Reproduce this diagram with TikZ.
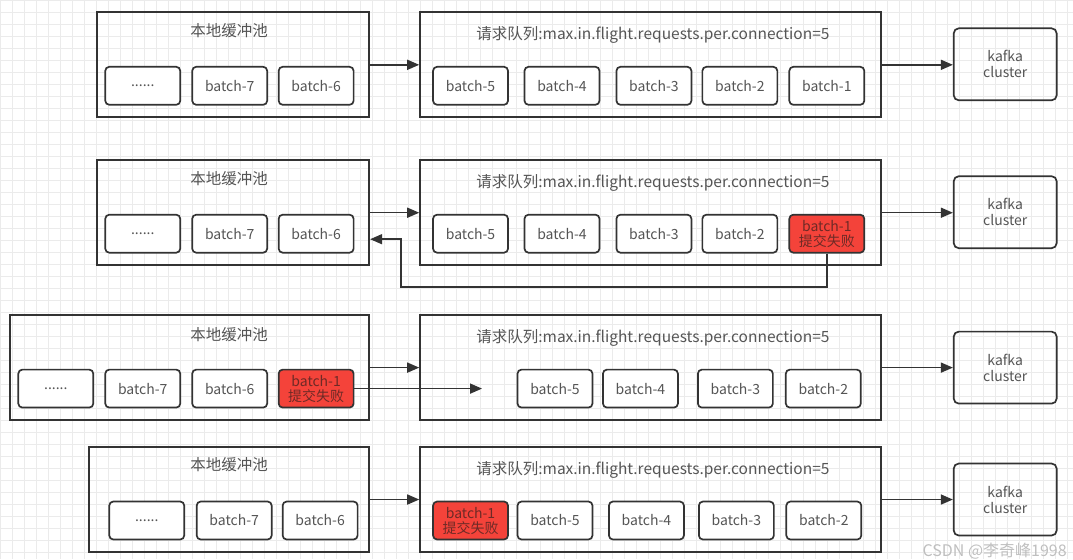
\documentclass[tikz,border=0pt]{standalone}
\usepackage{fontspec}
\setmainfont{Noto Sans CJK SC}
\usetikzlibrary{arrows.meta}
\definecolor{borde}{HTML}{333333}
\definecolor{texto}{HTML}{555555}
\definecolor{rojo}{HTML}{F4433A}
\definecolor{textorojo}{HTML}{6E2A26}
\definecolor{rejilla}{HTML}{EBEBEB}
\begin{document}
\begin{tikzpicture}[x=1pt, y=-1pt,
  pool/.style = {draw=borde, line width=1.7pt, minimum width=272pt, minimum height=105pt, inner sep=0pt},
  cola/.style = {draw=borde, line width=1.7pt, minimum width=461pt, minimum height=105pt, inner sep=0pt},
  titulo/.style = {text=texto, font=\fontsize{15.5}{17}\selectfont, inner sep=0pt},
  lote/.style = {draw=borde, line width=1.7pt, rounded corners=4pt, fill=white, minimum width=75pt, minimum height=38pt,
                 inner sep=0pt, text=texto, font=\fontsize{14}{16}\selectfont},
  fallo/.style = {lote, fill=rojo, text=textorojo, align=center},
  kafka/.style = {draw=borde, line width=1.7pt, rounded corners=5pt, minimum width=103pt, minimum height=72pt,
                  inner sep=0pt, text=texto, align=center, font=\fontsize{14}{16}\selectfont},
  flecha/.style = {draw=borde, line width=1.5pt, -{Triangle[length=12pt, width=10pt]}}]

% Fondo con rejilla
\fill[white] (0,0) rectangle (1073,559);
\draw[rejilla, line width=0.7pt] (0,0) grid[step=12pt] (1073,559);

% Fila 1: estado normal
\node[pool] (buf1) at (233,64.5) {};
\node[titulo] (tb1) at (229,30) {本地缓冲池};
\node[lote] (p13) at (142.5,85.5) {......};
\node[lote] (p12) at (229.5,85.5) {batch-7};
\node[lote] (p11) at (316,85.5) {batch-6};
\node[cola] (cola1) at (650.5,64.5) {};
\node[titulo] (tc1) at (653,35) {请求队列:max.in.flight.requests.per.connection=5};
\node[lote] (b15) at (470.5,85.5) {batch-5};
\node[lote] (b14) at (562,85.5) {batch-4};
\node[lote] (b13) at (654,85.5) {batch-3};
\node[lote] (b12) at (740,85.5) {batch-2};
\node[lote] (b11) at (827,85.5) {batch-1};
\node[kafka] (kafka1) at (1005.5,64) {kafka\\cluster};
\draw[flecha] (buf1) -- (cola1);
\draw[flecha] (cola1.east) -- (cola1.east -| kafka1.west);

% Fila 2: batch-1 falla y vuelve al buffer
\node[pool] (buf2) at (233,212.5) {};
\node[titulo] (tb2) at (229,178) {本地缓冲池};
\node[lote] (p23) at (142.5,233.5) {......};
\node[lote] (p22) at (229.5,233.5) {batch-7};
\node[lote] (p21) at (316,233.5) {batch-6};
\node[cola] (cola2) at (650.5,212.5) {};
\node[titulo] (tc2) at (653,183) {请求队列:max.in.flight.requests.per.connection=5};
\node[lote] (b25) at (470.5,233.5) {batch-5};
\node[lote] (b24) at (562,233.5) {batch-4};
\node[lote] (b23) at (654,233.5) {batch-3};
\node[lote] (b22) at (740,233.5) {batch-2};
\node[fallo] (b21) at (827,233.5) {batch-1\\[-1pt]提交失败};
\node[kafka] (kafka2) at (1005.5,212) {kafka\\cluster};
\draw[flecha] (buf2) -- (cola2);
\draw[flecha] (cola2.east) -- (cola2.east -| kafka2.west);
\coordinate (ret2) at (401,287);
\coordinate (ent2) at (370,239);
\draw[flecha] (b21.south) |- (ret2) |- (ent2);

% Fila 3: batch-1 en el buffer se reenvia
\node[pool, minimum width=359pt] (buf3) at (189.5,367.5) {};
\node[titulo] (tb3) at (229,335) {本地缓冲池};
\node[lote] (p34) at (55.5,388.5) {......};
\node[lote] (p33) at (142.5,388.5) {batch-7};
\node[lote] (p32) at (229.5,388.5) {batch-6};
\node[fallo] (p31) at (316,388.5) {batch-1\\[-1pt]提交失败};
\node[cola] (cola3) at (650.5,367.5) {};
\node[titulo] (tc3) at (653,338) {请求队列:max.in.flight.requests.per.connection=5};
\node[lote] (b35) at (555,388.5) {batch-5};
\node[lote] (b34) at (640.5,388.5) {batch-4};
\node[lote] (b33) at (735.5,388.5) {batch-3};
\node[lote] (b32) at (823.5,388.5) {batch-2};
\node[kafka] (kafka3) at (1005.5,367.5) {kafka\\cluster};
\coordinate (hueco3) at (482,388.5);
\draw[flecha] (buf3) -- (cola3);
\draw[flecha] (p31) -- (hueco3);
\draw[flecha] (cola3.east) -- (cola3.east -| kafka3.west);

% Fila 4: batch-1 queda delante de la cola
\node[pool, minimum width=280pt] (buf4) at (229,499.5) {};
\node[titulo] (tb4) at (229,465) {本地缓冲池};
\node[lote] (p43) at (146.5,520.5) {......};
\node[lote] (p42) at (234,520.5) {batch-7};
\node[lote] (p41) at (320,520.5) {batch-6};
\node[cola] (cola4) at (650.5,499.5) {};
\node[titulo] (tc4) at (653,470) {请求队列:max.in.flight.requests.per.connection=5};
\node[fallo] (b41) at (470.5,520.5) {batch-1\\[-1pt]提交失败};
\node[lote] (b45) at (555,520.5) {batch-5};
\node[lote] (b44) at (646.5,520.5) {batch-4};
\node[lote] (b43) at (736.5,520.5) {batch-3};
\node[lote] (b42) at (824,520.5) {batch-2};
\node[kafka] (kafka4) at (1005.5,499.5) {kafka\\cluster};
\draw[flecha] (buf4) -- (cola4);
\draw[flecha] (cola4.east) -- (cola4.east -| kafka4.west);

% Marca de agua
\node[text=gray!50, font=\fontsize{16}{18}\selectfont, inner sep=0pt] (marca) at (995,551) {CSDN @李奇峰1998};
\end{tikzpicture}
\end{document}
